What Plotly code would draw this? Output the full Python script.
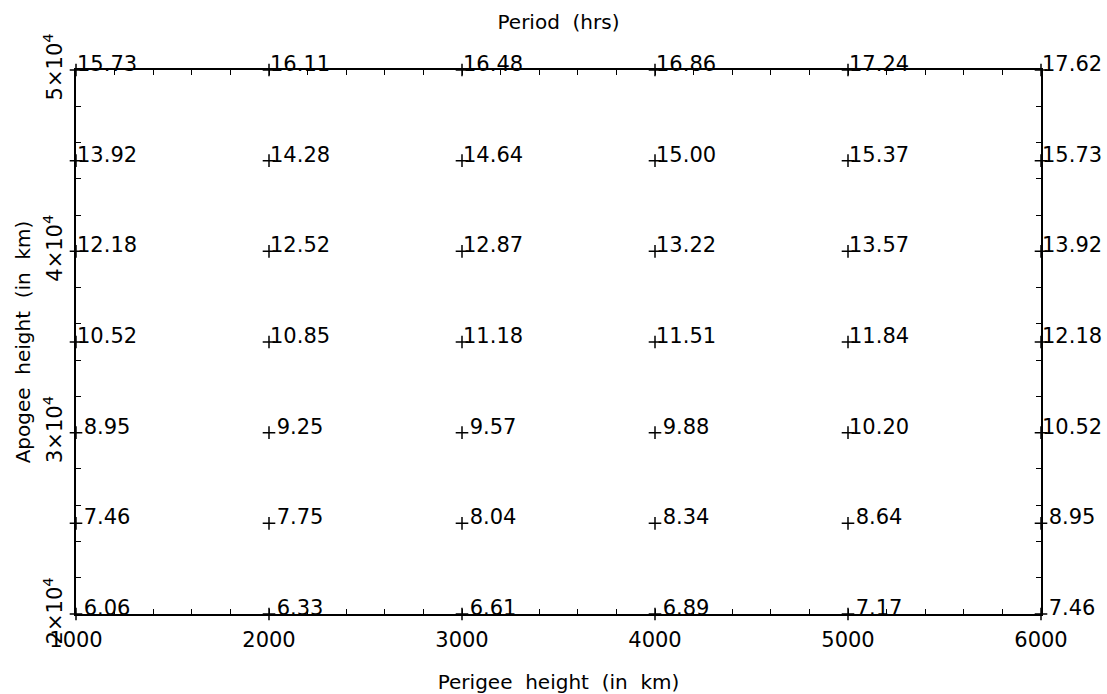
import plotly.graph_objects as go

# Orbit grid: perigee (x) and apogee (y) heights in km
perigee_km = [1000, 2000, 3000, 4000, 5000, 6000]
apogee_km = [50000, 45000, 40000, 35000, 30000, 25000, 20000]

# Orbital period in hours, one row per apogee height (top to bottom)
period_hrs = [
    [15.73, 16.11, 16.48, 16.86, 17.24, 17.62],
    [13.92, 14.28, 14.64, 15.00, 15.37, 15.73],
    [12.18, 12.52, 12.87, 13.22, 13.57, 13.92],
    [10.52, 10.85, 11.18, 11.51, 11.84, 12.18],
    [8.95, 9.25, 9.57, 9.88, 10.20, 10.52],
    [7.46, 7.75, 8.04, 8.34, 8.64, 8.95],
    [6.06, 6.33, 6.61, 6.89, 7.17, 7.46],
]

# Labelled axis ticks
x_tick_vals = [1000, 2000, 3000, 4000, 5000, 6000]
x_tick_text = ["1000", "2000", "3000", "4000", "5000", "6000"]
y_tick_vals = [20000, 30000, 40000, 50000]
y_tick_text = ["2×10<sup>4</sup>", "3×10<sup>4</sup>",
               "4×10<sup>4</sup>", "5×10<sup>4</sup>"]

FONT = "DejaVu Sans"

xs, ys, labels = [], [], []
for row, apo in zip(period_hrs, apogee_km):
    for per, val in zip(perigee_km, row):
        xs.append(per)
        ys.append(apo)
        txt = f"{val:.2f}"
        labels.append(("\u00a0" + txt) if val < 10 else txt)

fig = go.Figure()

# Cross markers at each grid point
fig.add_trace(go.Scatter(
    x=xs, y=ys, mode="markers",
    marker=dict(symbol="cross-thin", size=9, line=dict(width=1.5, color="black")),
    cliponaxis=False, hoverinfo="skip",
))

# Period labels sitting just right of and above each marker
for x, y, t in zip(xs, ys, labels):
    fig.add_annotation(
        x=x, y=y, xref="x", yref="y", text=t, showarrow=False,
        xanchor="left", yanchor="middle", xshift=-1, yshift=6,
        font=dict(family=FONT, size=21, color="black"),
    )

axis_common = dict(
    showline=True, linewidth=1.5, linecolor="black",
    mirror="allticks", ticks="inside", ticklen=5, tickwidth=1.2,
    tickcolor="black", showgrid=False, zeroline=False,
    tickfont=dict(family=FONT, size=21, color="black"),
)

fig.update_xaxes(
    range=[1000, 6000], tickmode="array",
    tickvals=x_tick_vals, ticktext=x_tick_text,
    minor=dict(dtick=200, tick0=1000, ticks="inside", ticklen=5,
               tickwidth=1.2, tickcolor="black", showgrid=False),
    ticklabelstandoff=6,
    title=dict(text="Perigee\u00a0 height\u00a0 (in\u00a0 km)",
               font=dict(family=FONT, size=20, color="black"), standoff=24),
    **axis_common,
)
fig.update_yaxes(
    range=[20000, 50000], tickmode="array",
    tickvals=y_tick_vals, ticktext=y_tick_text,
    minor=dict(dtick=2000, tick0=20000, ticks="inside", ticklen=5,
               tickwidth=1.2, tickcolor="black", showgrid=False),
    tickangle=-90, ticklabelstandoff=4,
    title=dict(text="Apogee\u00a0 height\u00a0 (in\u00a0 km)",
               font=dict(family=FONT, size=20, color="black"), standoff=3),
    **axis_common,
)

fig.update_layout(
    width=1107, height=694,
    margin=dict(l=76, r=66, t=70, b=80, autoexpand=False),
    paper_bgcolor="white", plot_bgcolor="white",
    showlegend=False,
    font=dict(family=FONT, color="black"),
    title=dict(text="Period\u00a0 (hrs)", x=0.5, xref="paper",
               y=1 - 22 / 694, yref="container", yanchor="middle",
               font=dict(family=FONT, size=20, color="black")),
)

fig.write_html("out.html")
